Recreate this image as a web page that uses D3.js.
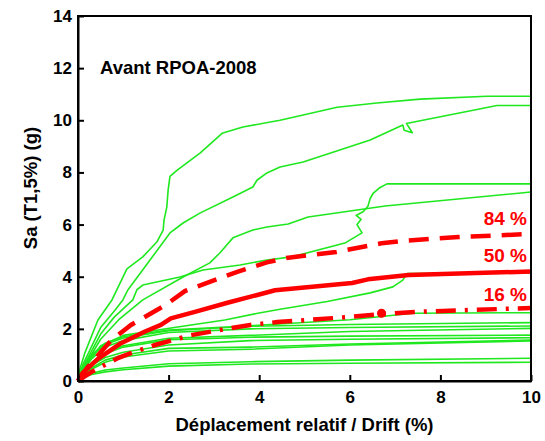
<!DOCTYPE html>
<html>
<head>
<meta charset="utf-8">
<script src="https://cdn.jsdelivr.net/npm/d3@7"></script>
<style>
  body { margin: 0; background: #fff; }
  svg text { font-family: "Liberation Sans", Arial, sans-serif; font-weight: bold; }
</style>
</head>
<body>
<svg id="chart" width="545" height="441"></svg>
<script>
// ---- Data (drift %, Sa g) ----
const xTicks = [0, 2, 4, 6, 8, 10];
const yTicks = [0, 2, 4, 6, 8, 10, 12, 14];

// individual IDA curves (green)
const curveA = [[0,0],[0.05,0.5],[0.15,1.07],[0.44,2.34],[0.75,3.11],[1.08,4.3],[1.43,4.76],[1.74,5.33],[1.88,5.79],[1.9,6.18],[1.96,6.67],[1.99,7.33],[2.03,7.85],[2.19,8.09],[2.7,8.75],[3.18,9.5],[3.64,9.74],[4.46,10.0],[4.97,10.2],[5.72,10.5],[6.6,10.66],[7.55,10.81],[9.03,10.92],[10,10.92]];
const curveB = [[0,0],[0.1,0.6],[0.5,2.05],[0.82,2.72],[0.99,3.11],[1.1,3.49],[1.59,4.64],[2.03,5.68],[2.32,6.06],[2.69,6.44],[3.42,7.06],[3.86,7.44],[3.95,7.7],[4.17,7.98],[4.46,8.21],[4.97,8.4],[6.45,9.24],[7.17,9.82],[7.2,9.62],[7.38,9.52],[7.25,9.88],[9.25,10.57],[10,10.57]];
const curveC = [[0,0],[0.1,0.5],[0.5,1.8],[0.8,2.45],[1.21,3.11],[1.3,3.5],[1.43,3.68],[2.25,3.99],[2.76,4.26],[3.58,4.45],[4.17,4.64],[4.72,4.76],[5.89,5.29],[6.27,5.68],[6.16,6.0],[6.25,6.2],[6.14,6.35],[6.3,6.5],[6.4,6.7],[6.45,7.0],[6.52,7.21],[6.65,7.4],[6.82,7.56],[10,7.56]];
const curveD = [[0,0],[0.1,0.45],[0.5,1.6],[0.9,2.35],[1.43,3.11],[2.32,3.99],[2.91,4.53],[3.13,4.91],[3.42,5.49],[3.86,5.79],[4.17,5.91],[4.64,6.02],[5.08,6.29],[6.78,6.71],[10,7.25]];
const curveE = [[0,0],[0.1,0.4],[0.5,1.35],[1,1.75],[2.2,2.07],[3.24,2.34],[3.97,2.6],[4.46,2.75],[5.5,3.05],[6.45,3.38],[6.95,3.61],[7.17,3.87],[7.26,4.12],[10,4.14]];
const curveG1 = [[0,0],[0.1,0.45],[0.3,1.0],[0.6,1.45],[1,1.7],[2,1.95],[3.8,2.12],[6,2.35],[7.4,2.6],[10,2.62]];
const curveG2 = [[0,0],[0.1,0.4],[0.3,0.95],[0.6,1.4],[1,1.65],[2,1.93],[3.8,2.1],[6,2.17],[10,2.24]];
const curveG3 = [[0,0],[0.1,0.35],[0.3,0.85],[0.6,1.3],[1,1.55],[2,1.86],[3.8,2.0],[6,2.05],[10,2.11]];
const curveG4 = [[0,0],[0.1,0.3],[0.3,0.7],[0.6,1.1],[1,1.35],[2,1.64],[3.8,1.75],[6,1.9],[10,2.02]];
const curveG5 = [[0,0],[0.1,0.3],[0.3,0.68],[0.6,1.05],[1,1.3],[2,1.58],[3.8,1.68],[6,1.72],[10,1.76]];
const curveG6 = [[0,0],[0.1,0.25],[0.3,0.6],[0.6,0.9],[1,1.1],[2,1.38],[3.8,1.55],[6,1.6],[10,1.66]];
const curveG7 = [[0,0],[0.1,0.22],[0.3,0.5],[0.6,0.8],[1,1.0],[2,1.25],[3.8,1.3],[6,1.42],[10,1.57]];
const curveG8 = [[0,0],[0.1,0.2],[0.3,0.45],[0.6,0.72],[1,0.92],[2,1.15],[3.8,1.22],[6,1.38],[10,1.54]];
const curveG9 = [[0,0],[0.1,0.15],[0.3,0.3],[0.6,0.42],[1,0.5],[2,0.66],[3.8,0.74],[6,0.8],[10,0.87]];
const curveG10 = [[0,0],[0.1,0.12],[0.3,0.25],[0.6,0.35],[1,0.43],[2,0.57],[3.8,0.65],[6,0.68],[10,0.72]];

// fractiles (red)
const p84 = [[0,0],[0.2,0.5],[0.5,1.1],[0.73,1.55],[1.17,2.15],[1.92,2.9],[2.36,3.45],[3.5,4.18],[4.17,4.55],[4.6,4.72],[5.7,4.95],[6.7,5.28],[7.2,5.38],[8.4,5.52],[10,5.64]];
const p50 = [[0,0],[0.1,0.3],[0.44,0.85],[0.95,1.45],[1.48,1.9],[1.83,2.15],[2.05,2.4],[2.58,2.65],[3.3,3.0],[4.35,3.48],[6.05,3.76],[6.4,3.9],[7.3,4.07],[10,4.2]];
const p16 = [[0,0],[0.3,0.35],[0.6,0.62],[0.88,0.88],[1.17,1.07],[1.7,1.38],[2.5,1.76],[3.38,2.03],[3.8,2.15],[4.4,2.26],[5.05,2.34],[5.94,2.45],[6.7,2.57],[7.55,2.66],[10,2.8]];
const marker16 = [[6.7,2.6]];

const fractileLabels = ["84 %", "50 %", "16 %"];
const fractileLabelY = [6.0, 4.55, 3.05];
const titleText = "Avant RPOA-2008";
const xTitle = "Déplacement relatif / Drift (%)";
const yTitle = "Sa (T1,5%) (g)";

// ---- Drawing ----
const svg = d3.select("#chart");
const pLeft = 78, pRight = 531, pTop = 16, pBottom = 381;
const x = d3.scaleLinear().domain([0, 10]).range([pLeft, pRight]);
const y = d3.scaleLinear().domain([0, 14]).range([pBottom, pTop]);

const line = d3.line().x(d => x(d[0])).y(d => y(d[1]));

const greens = [curveG10, curveG9, curveG8, curveG7, curveG6, curveG5, curveG4, curveG3, curveG2, curveG1, curveE, curveD, curveC, curveB, curveA];
const green = "#1fe81f";
svg.append("g").selectAll("path").data(greens).join("path")
  .attr("d", line).attr("fill", "none").attr("stroke", green)
  .attr("stroke-width", 1.6).attr("stroke-linejoin", "round");

const red = "#ff0000";
svg.append("path").attr("d", line(p84)).attr("fill", "none").attr("stroke", red)
  .attr("stroke-width", 4.5).attr("stroke-dasharray", "20,11");
svg.append("path").attr("d", line(p50)).attr("fill", "none").attr("stroke", red)
  .attr("stroke-width", 4.5).attr("stroke-linejoin", "round");
svg.append("path").attr("d", line(p16)).attr("fill", "none").attr("stroke", red)
  .attr("stroke-width", 4.5).attr("stroke-dasharray", "20,9,3,9");
svg.append("g").selectAll("circle").data(marker16).join("circle")
  .attr("cx", d => x(d[0])).attr("cy", d => y(d[1])).attr("r", 4.5).attr("fill", red);

// axes
const xAxis = d3.axisBottom(x).tickValues(xTicks).tickSizeInner(-6).tickSizeOuter(0).tickPadding(10);
const yAxis = d3.axisLeft(y).tickValues(yTicks).tickSizeInner(-6).tickSizeOuter(0).tickPadding(6);
const gx = svg.append("g").attr("transform", `translate(0,${pBottom})`).call(xAxis);
const gy = svg.append("g").attr("transform", `translate(${pLeft},0)`).call(yAxis);
[gx, gy].forEach(g => {
  g.select(".domain").attr("stroke", "#000").attr("stroke-width", 2);
  g.selectAll(".tick line").attr("stroke", "#000").attr("stroke-width", 2);
  g.selectAll(".tick text").attr("fill", "#000").style("font-size", "17px")
    .style("font-family", "'Liberation Sans', Arial, sans-serif").style("font-weight", "bold");
});

// frame top and right
svg.append("rect").attr("x", pLeft).attr("y", pTop).attr("width", pRight - pLeft).attr("height", pBottom - pTop)
  .attr("fill", "none").attr("stroke", "#000").attr("stroke-width", 2);

// labels
svg.append("g").selectAll("text").data(fractileLabels).join("text")
  .attr("x", pRight - 4).attr("y", (d, i) => y(fractileLabelY[i]))
  .attr("text-anchor", "end").attr("fill", red).style("font-size", "19px").text(d => d);

svg.append("text").attr("x", 100).attr("y", 74).attr("fill", "#000")
  .style("font-size", "18.5px").text(titleText);

svg.append("text").attr("x", (pLeft + pRight) / 2).attr("y", 431).attr("text-anchor", "middle")
  .attr("fill", "#000").style("font-size", "18.5px").text(xTitle);

svg.append("text").attr("transform", `translate(37,188) rotate(-90)`)
  .attr("text-anchor", "middle").attr("fill", "#000").style("font-size", "18.5px").text(yTitle);
</script>
</body>
</html>
